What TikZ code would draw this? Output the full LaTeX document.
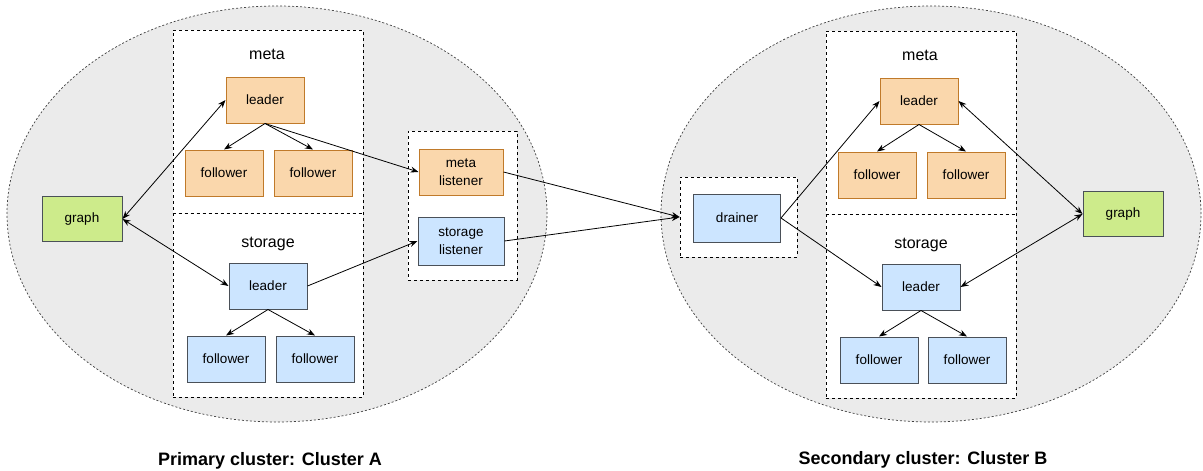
\documentclass[tikz,border=0pt]{standalone}
\usepackage{fontspec}
\setmainfont{Liberation Sans}
\usetikzlibrary{arrows.meta}

\definecolor{orfill}{HTML}{FAD7AC}
\definecolor{ordraw}{HTML}{C07A2A}
\definecolor{blfill}{HTML}{CCE5FF}
\definecolor{bldraw}{HTML}{4A5058}
\definecolor{grfill}{HTML}{CDEB8B}
\definecolor{clfill}{HTML}{EBEBEB}

\begin{document}
\begin{tikzpicture}[x=1pt,y=-1pt,
    box/.style={draw,line width=1pt,minimum width=78pt,minimum height=46pt,
      inner sep=1pt,align=center,font=\fontsize{13.5}{17.5}\selectfont},
    metabox/.style={box,fill=orfill,draw=ordraw},
    storebox/.style={box,fill=blfill,draw=bldraw},
    graphbox/.style={box,fill=grfill,draw=bldraw,minimum width=80pt,minimum height=45pt},
    group/.style={draw,dash pattern=on 3pt off 3pt,fill=white,line width=0.9pt,inner sep=0pt},
    cluster/.style={draw=black!75,dash pattern=on 2pt off 2pt,fill=clfill,line width=0.7pt},
    title/.style={font=\fontsize{16}{18}\selectfont},
    caption/.style={font=\bfseries\fontsize{18}{20}\selectfont},
    link/.style={-{Stealth[length=8pt,width=6pt]},line width=0.8pt},
    both/.style={{Stealth[length=8pt,width=6pt]}-{Stealth[length=8pt,width=6pt]},line width=0.8pt}]
  \useasboundingbox (0,0) rectangle (1203,471);

  % the two clusters
  \draw[cluster] (277,214) ellipse [x radius=270pt,y radius=208pt];
  \draw[cluster] (931,214) ellipse [x radius=270pt,y radius=208pt];

  % cluster A
  \node[group,minimum width=190pt,minimum height=367pt] (grpA) at (268,213.5) {};
  \draw[dash pattern=on 3pt off 3pt,line width=0.9pt] (grpA.west) -- (grpA.east);
  \node[group,minimum width=109pt,minimum height=149pt] (lsnA) at (462.5,205.5) {};

  \node[title] (metaA) at (267,54) {meta};
  \node[metabox] (mldA) at (265,100) {leader};
  \node[metabox] (mf1A) at (224,173) {follower};
  \node[metabox] (mf2A) at (313,173) {follower};
  \node[title] (stoA) at (268,244) {storage};
  \node[storebox] (sldA) at (268,286) {leader};
  \node[storebox] (sf1A) at (226,359) {follower};
  \node[storebox] (sf2A) at (315,359) {follower};
  \node[graphbox] (grA) at (82,219) {graph};
  \node[metabox,minimum width=84pt] (mlis) at (461,172) {meta\\listener};
  \node[storebox,minimum width=86pt,minimum height=48pt] (slis) at (461,241) {storage\\listener};

  % cluster B
  \node[group,minimum width=190pt,minimum height=367pt] (grpB) at (921,214.5) {};
  \draw[dash pattern=on 3pt off 3pt,line width=0.9pt] (grpB.west) -- (grpB.east);
  \node[group,minimum width=117pt,minimum height=80pt] (drnB) at (738.5,217) {};

  \node[title] (metaB) at (920,55) {meta};
  \node[metabox] (mldB) at (919,101) {leader};
  \node[metabox] (mf1B) at (877,175) {follower};
  \node[metabox] (mf2B) at (966,175) {follower};
  \node[title] (stoB) at (921,245) {storage};
  \node[storebox] (sldB) at (921,287) {leader};
  \node[storebox] (sf1B) at (879,360) {follower};
  \node[storebox] (sf2B) at (967,360) {follower};
  \node[graphbox] (grB) at (1123,214) {graph};
  \node[storebox,minimum width=87pt,minimum height=48pt] (drainer) at (737,218) {drainer};

  \node[caption] (capA) at (270,461) {Primary cluster: Cluster A};
  \node[caption] (capB) at (923,460) {Secondary cluster: Cluster B};

  % connectors
  \draw[both] (grA.east) -- (mldA.west);
  \draw[both] (grA.east) -- (sldA.west);
  \draw[link] (mldA.south) -- (mf1A.north);
  \draw[link] (mldA.south) -- (mf2A.north);
  \draw[link] (sldA.south) -- (sf1A.north);
  \draw[link] (sldA.south) -- (sf2A.north);
  \draw[link] (mldA.south) -- (mlis.west);
  \draw[link] (sldA.east) -- (slis.west);
  \draw[link] (mlis.east) -- (drnB.west);
  \draw[link] (slis.east) -- (drnB.west);
  \draw[link] (drainer.east) -- (mldB.west);
  \draw[link] (drainer.east) -- (sldB.west);
  \draw[link] (mldB.south) -- (mf1B.north);
  \draw[link] (mldB.south) -- (mf2B.north);
  \draw[link] (sldB.south) -- (sf1B.north);
  \draw[link] (sldB.south) -- (sf2B.north);
  \draw[both] (grB.west) -- (mldB.east);
  \draw[both] (grB.west) -- (sldB.east);
\end{tikzpicture}
\end{document}
